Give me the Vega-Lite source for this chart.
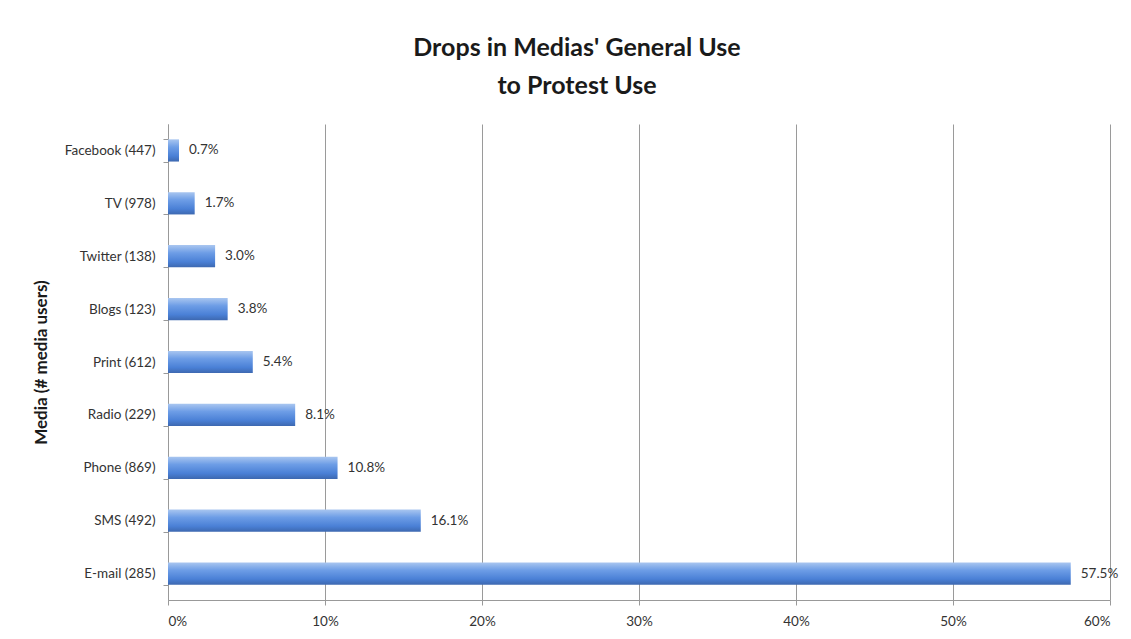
{
  "$schema": "https://vega.github.io/schema/vega-lite/v6.json",
  "width": 942,
  "height": 476,
  "autosize": {"type": "none"},
  "padding": {"left": 168, "top": 124, "right": 21, "bottom": 39},
  "background": "white",
  "title": {
    "text": ["Drops in Medias' General Use", "to Protest Use"],
    "font": "Lato",
    "fontSize": 25,
    "fontWeight": "bold",
    "color": "#1a1a1a",
    "anchor": "middle",
    "dx": -62,
    "offset": 18,
    "lineHeight": 38
  },
  "data": {
    "values": [
      {"media": "Facebook (447)", "drop": 0.007, "label": "0.7%"},
      {"media": "TV (978)", "drop": 0.017, "label": "1.7%"},
      {"media": "Twitter (138)", "drop": 0.030, "label": "3.0%"},
      {"media": "Blogs (123)", "drop": 0.038, "label": "3.8%"},
      {"media": "Print (612)", "drop": 0.054, "label": "5.4%"},
      {"media": "Radio (229)", "drop": 0.081, "label": "8.1%"},
      {"media": "Phone (869)", "drop": 0.108, "label": "10.8%"},
      {"media": "SMS (492)", "drop": 0.161, "label": "16.1%"},
      {"media": "E-mail (285)", "drop": 0.575, "label": "57.5%"}
    ]
  },
  "encoding": {
    "y": {
      "field": "media",
      "type": "nominal",
      "sort": null,
      "scale": {"paddingInner": 0.58, "paddingOuter": 0.29},
      "axis": {
        "title": "Media (# media users)",
        "titleFont": "Lato",
        "titleFontSize": 17,
        "titleFontWeight": "bold",
        "titleColor": "#1a1a1a",
        "titlePadding": 14,
        "labelFont": "Lato",
        "labelFontSize": 13.5,
        "labelColor": "#333333",
        "labelPadding": 8,
        "domainColor": "#999999",
        "tickColor": "#999999",
        "tickBand": "extent",
        "tickSize": 5,
        "grid": false
      }
    },
    "x": {
      "field": "drop",
      "type": "quantitative",
      "scale": {"domain": [0, 0.6], "nice": false},
      "axis": {
        "title": null,
        "format": ".0%",
        "values": [0, 0.1, 0.2, 0.3, 0.4, 0.5, 0.6],
        "labelFont": "Lato",
        "labelFontSize": 13.5,
        "labelColor": "#333333",
        "labelPadding": 9,
        "grid": true,
        "gridColor": "#9a9a9a",
        "gridWidth": 1,
        "domainColor": "#999999",
        "tickColor": "#999999",
        "tickSize": 5
      }
    }
  },
  "layer": [
    {
      "mark": {
        "type": "bar",
        "color": {
          "gradient": "linear",
          "x1": 0, "y1": 0, "x2": 0, "y2": 1,
          "stops": [
            {"offset": 0, "color": "#a9c6f0"},
            {"offset": 0.35, "color": "#6d9de6"},
            {"offset": 0.75, "color": "#4a80d6"},
            {"offset": 1, "color": "#3d68b0"}
          ]
        }
      }
    },
    {
      "mark": {
        "type": "text",
        "align": "left",
        "dx": 10,
        "font": "Lato",
        "fontSize": 13.5,
        "color": "#333333"
      },
      "encoding": {"text": {"field": "label"}}
    }
  ],
  "config": {
    "view": {"stroke": null}
  }
}
